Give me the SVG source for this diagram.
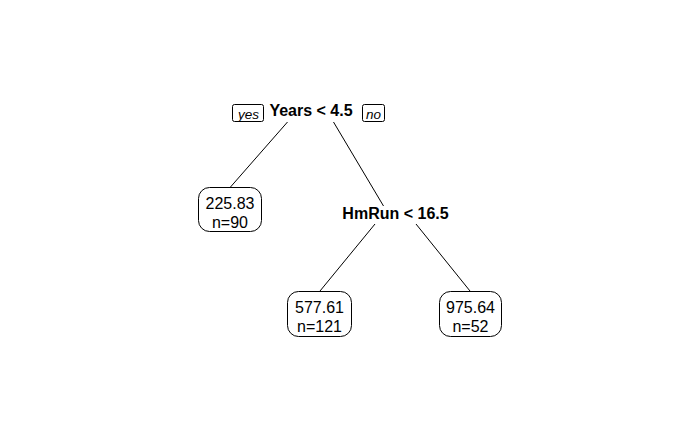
<svg xmlns="http://www.w3.org/2000/svg" width="700" height="432" viewBox="0 0 700 432">
<style>
  .bg { fill: #ffffff; }
  .edge { stroke: #000; stroke-width: 1; fill: none; }
  .leaf { fill: #fff; stroke: #000; stroke-width: 1; }
  .tag { fill: #fff; stroke: #000; stroke-width: 1; }
  .split { font-family: "Liberation Sans", Arial, sans-serif; font-weight: bold; font-size: 16px; text-anchor: middle; fill: #000; }
  .val { font-family: "Liberation Sans", Arial, sans-serif; font-size: 16px; text-anchor: middle; fill: #000; }
  .yn { font-family: "Liberation Sans", Arial, sans-serif; font-style: italic; font-size: 13.5px; text-anchor: middle; fill: #000; }
</style>
<rect class="bg" x="0" y="0" width="700" height="432"/>
<g id="connectors">
  <line class="edge" x1="287.5" y1="122" x2="230.5" y2="187"/>
  <line class="edge" x1="333.5" y1="122" x2="383.5" y2="206"/>
  <line class="edge" x1="375" y1="224" x2="320" y2="291"/>
  <line class="edge" x1="416" y1="224" x2="470" y2="291"/>
</g>
<g id="node-years">
  <text class="split" x="311" y="116">Years &lt; 4.5</text>
</g>
<g id="label-yes">
  <rect class="tag" x="232.5" y="104.5" width="31" height="17" rx="2"/>
  <text class="yn" x="248.5" y="119">yes</text>
</g>
<g id="label-no">
  <rect class="tag" x="362.5" y="104.5" width="22" height="17" rx="2"/>
  <text class="yn" x="373.5" y="119">no</text>
</g>
<g id="node-hmrun">
  <text class="split" x="395.5" y="219">HmRun &lt; 16.5</text>
</g>
<g id="leaf-1">
  <rect class="leaf" x="198.5" y="187.5" width="63" height="44" rx="11"/>
  <text class="val" x="230" y="208.5">225.83</text>
  <text class="val" x="230" y="227.5">n=90</text>
</g>
<g id="leaf-2">
  <rect class="leaf" x="287.5" y="291.5" width="64" height="45" rx="11"/>
  <text class="val" x="319.5" y="312.5">577.61</text>
  <text class="val" x="319.5" y="331.5">n=121</text>
</g>
<g id="leaf-3">
  <rect class="leaf" x="439.5" y="291.5" width="62" height="45" rx="11"/>
  <text class="val" x="470.5" y="312.5">975.64</text>
  <text class="val" x="470.5" y="331.5">n=52</text>
</g>
</svg>
